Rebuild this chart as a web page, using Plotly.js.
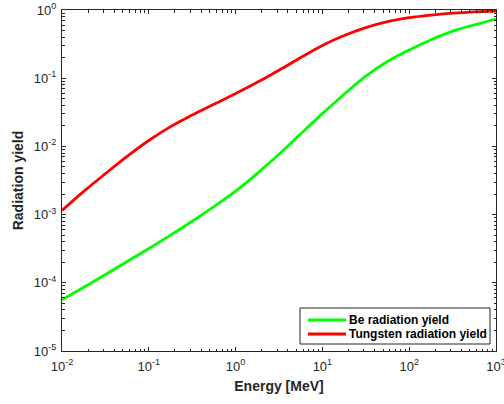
<!DOCTYPE html>
<html>
<head>
<meta charset="utf-8">
<script src="https://cdn.plot.ly/plotly-3.0.1.min.js"></script>
<style>
  html, body { margin: 0; padding: 0; background: #fff; }
  #chart { width: 504px; height: 404px; }
</style>
</head>
<body>
<div id="chart"></div>
<script>
// Photon energy grid [MeV], quarter-decade steps
const energy = [0.01, 0.0178, 0.0316, 0.0562, 0.1, 0.178, 0.316, 0.562, 1, 1.78,
                3.16, 5.62, 10, 17.8, 31.6, 56.2, 100, 178, 316, 562, 1000];

// Radiation yield of beryllium
const beYield = [5.62e-5, 8.59e-5, 1.32e-4, 2.05e-4, 3.18e-4, 4.99e-4, 8.00e-4, 1.31e-3,
                 2.21e-3, 4.03e-3, 7.67e-3, 1.53e-2, 3.02e-2, 5.82e-2, 0.107, 0.176,
                 0.260, 0.367, 0.490, 0.605, 0.738];

// Radiation yield of tungsten
const wYield = [1.15e-3, 2.19e-3, 3.98e-3, 7.13e-3, 1.22e-2, 1.95e-2, 2.88e-2, 4.14e-2,
                5.96e-2, 8.71e-2, 0.131, 0.201, 0.302, 0.422, 0.552, 0.676, 0.773,
                0.843, 0.897, 0.938, 0.966];

const seriesNames = ['Be radiation yield', 'Tungsten radiation yield'];
const seriesColors = ['#00ff00', '#ff0000'];

// Decade ticks
const xTickVals = [0.01, 0.1, 1, 10, 100, 1000];
const xTickText = ['10<sup>-2</sup>', '10<sup>-1</sup>', '10<sup>0</sup>',
                   '10<sup>1</sup>', '10<sup>2</sup>', '10<sup>3</sup>'];
const yTickVals = [1e-5, 1e-4, 1e-3, 1e-2, 1e-1, 1];
const yTickText = ['10<sup>-5</sup>', '10<sup>-4</sup>', '10<sup>-3</sup>',
                   '10<sup>-2</sup>', '10<sup>-1</sup>', '10<sup>0</sup>'];

function minorTicks(lo, hi) {
  const out = [];
  for (let e = lo; e < hi; e++) {
    for (let m = 2; m <= 9; m++) out.push(m * Math.pow(10, e));
  }
  return out;
}

const axisColor = '#262626';
const fontFam = 'Liberation Sans, Arial, sans-serif';

const traces = [
  {
    x: energy, y: beYield, name: seriesNames[0],
    mode: 'lines', line: { color: seriesColors[0], width: 2.8, shape: 'spline', smoothing: 1 }
  },
  {
    x: energy, y: wYield, name: seriesNames[1],
    mode: 'lines', line: { color: seriesColors[1], width: 2.8, shape: 'spline', smoothing: 1 }
  }
];

const commonAxis = {
  type: 'log',
  showgrid: false,
  zeroline: false,
  showline: true,
  mirror: 'ticks',
  linecolor: axisColor,
  linewidth: 1,
  ticks: 'inside',
  ticklen: 4,
  tickwidth: 1,
  tickcolor: axisColor,
  tickmode: 'array',
  ticklabeloverflow: 'allow',
  tickfont: { family: fontFam, size: 13, color: axisColor }
};

// Boxed legend in the lower right corner of the axes
const box = { x0: 0.5484, x1: 0.9862, y0: 0.0205, y1: 0.1261 };
const rowY = [0.0909, 0.0499];
const sampleX = [0.5668, 0.6544];
const textX = 0.6567;

const shapes = [
  { type: 'rect', xref: 'paper', yref: 'paper', x0: box.x0, x1: box.x1, y0: box.y0, y1: box.y1,
    line: { color: axisColor, width: 1 }, fillcolor: '#ffffff', layer: 'above' }
];
const annotations = [];
seriesNames.forEach((name, i) => {
  shapes.push({ type: 'line', xref: 'paper', yref: 'paper',
                x0: sampleX[0], x1: sampleX[1], y0: rowY[i], y1: rowY[i],
                line: { color: seriesColors[i], width: 2.8 }, layer: 'above' });
  annotations.push({ xref: 'paper', yref: 'paper', x: textX, y: rowY[i],
                     xanchor: 'left', yanchor: 'middle', showarrow: false,
                     text: '<b>' + name + '</b>',
                     font: { family: fontFam, size: 12, color: '#000000' } });
});

const layout = {
  width: 504,
  height: 404,
  margin: { l: 62, r: 8, t: 10, b: 53 },
  paper_bgcolor: '#ffffff',
  plot_bgcolor: '#ffffff',
  font: { family: fontFam, color: axisColor },
  showlegend: false,
  shapes: shapes,
  annotations: annotations,
  xaxis: Object.assign({}, commonAxis, {
    range: [-2, 3],
    tickvals: xTickVals,
    ticktext: xTickText,
    ticklabelstandoff: 3,
    minor: { tickmode: 'array', tickvals: minorTicks(-2, 3), ticks: 'inside',
             ticklen: 2.5, tickcolor: axisColor, showgrid: false },
    title: { text: '<b>Energy [MeV]</b>', standoff: 8,
             font: { family: fontFam, size: 14, color: axisColor } }
  }),
  yaxis: Object.assign({}, commonAxis, {
    range: [-5, 0],
    tickvals: yTickVals,
    ticktext: yTickText,
    ticklabelstandoff: 2,
    minor: { tickmode: 'array', tickvals: minorTicks(-5, 0), ticks: 'inside',
             ticklen: 2.5, tickcolor: axisColor, showgrid: false },
    title: { text: '<b>Radiation yield</b>', standoff: 6,
             font: { family: fontFam, size: 14, color: axisColor } }
  })
};

Plotly.newPlot('chart', traces, layout, { displayModeBar: false, staticPlot: true });
</script>
</body>
</html>
